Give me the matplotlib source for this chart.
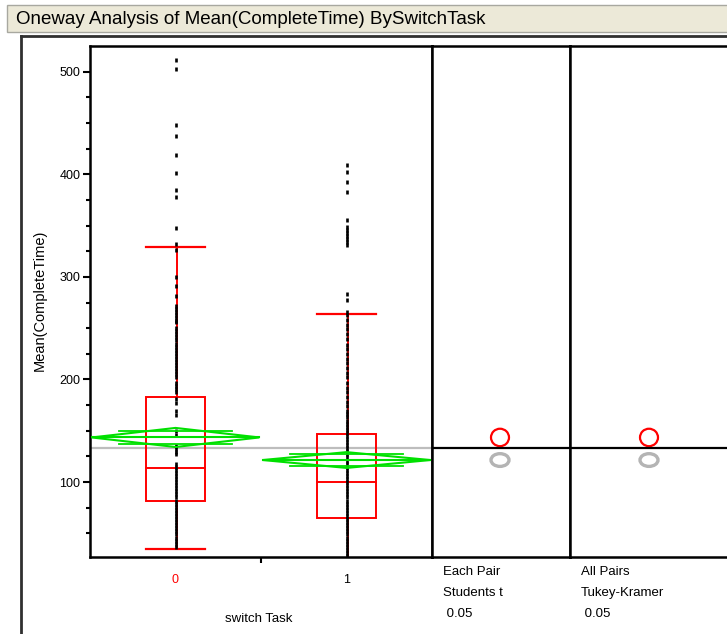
import numpy as np
import matplotlib
matplotlib.use('Agg')
import matplotlib.pyplot as plt
from matplotlib.patches import Ellipse, Rectangle, Polygon

# data
groups = ['0', '1']
group_x = [0, 1]
q1 = [82, 65]
median = [114, 100]
q3 = [183, 147]
whisk_lo = [35, 22]
whisk_hi = [329, 264]
means = [143.5, 121.5]
ci_half = [9.3, 7.7]
grand_mean = 133
circle_r = [8.5, 6.2]
circle_col = ['#FF0000', '#B4B4B4']

pts0 = [511, 503, 448, 437, 419, 401, 385, 378, 348, 332, 326, 300, 291, 281,
        272, 269, 266, 263, 260, 257, 256, 250, 247, 244, 241, 238, 235, 232,
        229, 226, 223, 220, 217, 214, 211, 208, 205, 202, 197, 194, 191, 188,
        181, 177, 169, 165, 150, 146, 135, 132, 129, 127, 118, 115, 112, 109,
        106, 103, 100, 97, 94, 91, 88, 85, 82, 79, 76, 73, 70, 67, 64, 61, 58,
        55, 52, 49, 46, 43, 40, 37]
pts1 = [409, 402, 392, 383, 355, 349, 346, 343, 340, 337, 334, 331, 283, 277,
        266, 263, 258, 253, 249, 244, 239, 234, 230, 225, 220, 216, 211, 206,
        202, 197, 192, 188, 183, 178, 174, 169, 166, 163, 160, 157, 154, 151,
        148, 145, 142, 139, 136, 133, 130, 127, 124, 121, 118, 115, 112, 109,
        106, 103, 100, 97, 94, 91, 88, 85, 82, 79, 76, 73, 70, 67, 64, 61, 58,
        55, 52, 49, 46, 43, 40, 37, 34, 31, 28]
points = [pts0, pts1]

panel_titles = [['Each Pair', 'Students t', ' 0.05'], ['All Pairs', 'Tukey-Kramer', ' 0.05']]

W, H = 727, 634
fig = plt.figure(figsize=(W/100, H/100), dpi=100)
plt.rcParams['font.family'] = 'Liberation Sans'

def box(l, r, t, b):
    return [l/W, 1-b/H, (r-l)/W, (b-t)/H]

red = '#FF0000'
green = '#00E000'
ylo, yhi = 27, 525

# title bar and outer frame
fig.patches.append(Rectangle((7/W, 1-32/H), 730/W, 27/H, transform=fig.transFigure,
                             facecolor='#ECE9D8', edgecolor='#A8A8A0', lw=1))
fig.text(16/W, 1-19/H, 'Oneway Analysis of Mean(CompleteTime) BySwitchTask',
         fontsize=13.5, va='center', ha='left')
fig.lines.append(plt.Line2D([21/W, 21/W], [1-36/H, 0], transform=fig.transFigure, color='#303030', lw=2))
fig.lines.append(plt.Line2D([21/W, 1], [1-36/H, 1-36/H], transform=fig.transFigure, color='#303030', lw=2))

ax = fig.add_axes(box(90, 432, 46, 557))
ax.set_xlim(-0.5, 1.5)
ax.set_ylim(ylo, yhi)
ax.axhline(grand_mean, color='#BDBDBD', lw=1.6, zorder=1)

for i, gx in enumerate(group_x):
    # box plot
    ax.add_patch(Rectangle((gx-0.17, q1[i]), 0.34, q3[i]-q1[i], fill=False, ec=red, lw=1.4, zorder=3))
    ax.plot([gx-0.17, gx+0.17], [median[i], median[i]], color=red, lw=1.4, zorder=3)
    ax.plot([gx+0.006, gx+0.006], [q3[i], whisk_hi[i]], color=red, lw=1.4, zorder=2)
    ax.plot([gx+0.006, gx+0.006], [q1[i], whisk_lo[i]], color=red, lw=1.4, zorder=2)
    ax.plot([gx-0.17, gx+0.17], [whisk_hi[i], whisk_hi[i]], color=red, lw=1.6, zorder=3)
    ax.plot([gx-0.17, gx+0.17], [whisk_lo[i], whisk_lo[i]], color=red, lw=1.6, zorder=3)
    # data points
    ax.plot([gx]*len(points[i]), points[i], '|', color='k', ms=3.2, mew=1.9, zorder=4)
    # means diamond
    m, h, w = means[i], ci_half[i], 0.49
    ax.add_patch(Polygon([[gx-w, m], [gx, m+h], [gx+w, m], [gx, m-h]], closed=True,
                         fill=False, ec=green, lw=1.5, zorder=5))
    ax.plot([gx-w, gx+w], [m, m], color=green, lw=1.5, zorder=5)
    om = h/np.sqrt(2)
    for s in (1, -1):
        ax.plot([gx-0.33, gx+0.33], [m+s*om, m+s*om], color=green, lw=1.3, zorder=5)

ax.set_yticks([100, 200, 300, 400, 500])
ax.set_yticks(np.arange(50, 525, 25), minor=True)
ax.set_xticks(group_x)
ax.set_xticklabels(groups)
ax.get_xticklabels()[0].set_color(red)
ax.set_xticks([0.5], minor=True)
ax.tick_params(axis='y', which='major', length=5, width=1.5, labelsize=9, pad=2)
ax.tick_params(axis='y', which='minor', length=3, width=1.5)
ax.tick_params(axis='x', which='major', length=0, labelsize=9, pad=12)
ax.tick_params(axis='x', which='minor', length=4, width=1.5)
for sp in ax.spines.values():
    sp.set_linewidth(1.8)

fig.text(40/W, 1-300/H, 'Mean(CompleteTime)', rotation=90, fontsize=10.5, ha='center', va='center')
fig.text(259/W, 1-619/H, 'switch Task', fontsize=9.5, ha='center', va='center')

# comparison circles panels
panels = [(432, 570), (570, 729)]
for k, (l, r) in enumerate(panels):
    pax = fig.add_axes(box(l, r, 46, 557))
    pax.set_xlim(0, r-l)
    pax.set_ylim(ylo, yhi)
    pax.axhline(grand_mean, color='k', lw=1.6)
    cx = 68 if k == 0 else 79
    for i in range(len(groups)):
        pax.add_patch(Ellipse((cx, means[i]), 18, 2*circle_r[i], fill=False,
                              ec=circle_col[i], lw=1.6 if i == 0 else 2.4))
    pax.set_xticks([])
    pax.set_yticks([])
    for sp in pax.spines.values():
        sp.set_linewidth(1.8)
    for j, t in enumerate(panel_titles[k]):
        fig.text((l+11)/W, 1-(572+21*j)/H, t, fontsize=9.5, ha='left', va='center')

fig.savefig('out.png', dpi=100)
